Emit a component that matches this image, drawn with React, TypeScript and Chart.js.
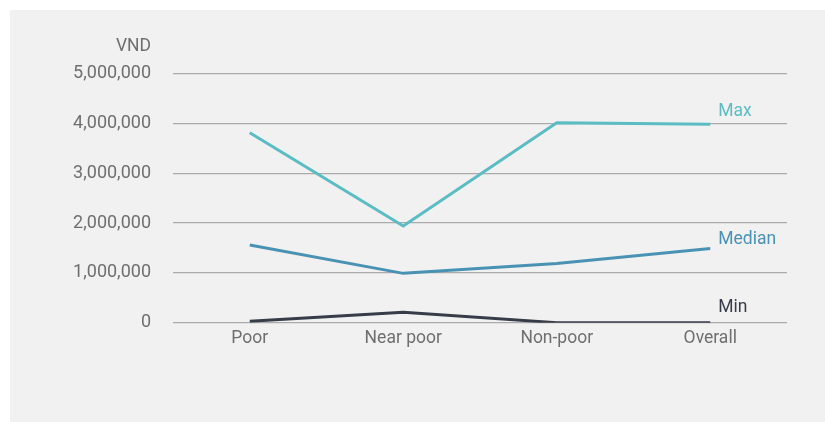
import React, { useEffect, useRef } from "react";
import { Chart, registerables } from "chart.js";

Chart.register(...registerables);

const categories = ["Poor", "Near poor", "Non-poor", "Overall"];
const maxValues = [3810000, 1940000, 4010000, 3980000];
const medianValues = [1560000, 990000, 1190000, 1490000];
const minValues = [30000, 210000, 0, 0];
const yTicks = [0, 1000000, 2000000, 3000000, 4000000, 5000000];
const unitLabel = "VND";

const FONT = "Roboto, 'Open Sans', sans-serif";
const TEXT = "#6f6f6f";

const seriesStyle = [
  { name: "Max", data: maxValues, color: "#5bbcc3", dx: 8, dy: -8 },
  { name: "Median", data: medianValues, color: "#4a92b4", dx: 8, dy: -4 },
  { name: "Min", data: minValues, color: "#363d49", dx: 8, dy: -11 },
];

// Draws the unit caption above the value axis and a name next to each line's last point
const annotations = {
  id: "annotations",
  afterDatasetsDraw(chart: any) {
    const ctx = chart.ctx;
    const yScale = chart.scales.y;
    ctx.save();
    ctx.font = `17.5px ${FONT}`;
    ctx.fillStyle = TEXT;
    ctx.textAlign = "right";
    ctx.textBaseline = "alphabetic";
    ctx.fillText(unitLabel, yScale.right - 22, 41);
    ctx.textAlign = "left";
    chart.data.datasets.forEach((ds: any, i: number) => {
      const meta = chart.getDatasetMeta(i);
      const pt = meta.data[meta.data.length - 1];
      const s = seriesStyle[i];
      ctx.fillStyle = s.color;
      ctx.fillText(s.name, pt.x + s.dx, pt.y + s.dy);
    });
    ctx.restore();
  },
};

export default function App() {
  const ref = useRef<HTMLCanvasElement>(null);

  useEffect(() => {
    if (!ref.current) return;
    const chart = new Chart(ref.current, {
      type: "line",
      data: {
        labels: categories,
        datasets: seriesStyle.map((s) => ({
          label: s.name,
          data: s.data,
          borderColor: s.color,
          backgroundColor: s.color,
          borderWidth: 3,
          pointRadius: 0,
          tension: 0,
          fill: false,
        })),
      },
      options: {
        responsive: false,
        animation: false,
        layout: { padding: { top: 63.5, right: 38, left: 0, bottom: 0 } },
        plugins: {
          legend: { display: false },
          tooltip: { enabled: false },
        },
        scales: {
          x: {
            offset: true,
            grid: { display: false, drawTicks: false },
            border: { display: false },
            ticks: {
              color: TEXT,
              font: { family: FONT, size: 17.5 },
              padding: 5,
            },
            afterFit: (scale: any) => {
              scale.height = 99.3;
            },
          },
          y: {
            min: 0,
            max: 5000000,
            afterBuildTicks: (scale: any) => {
              scale.ticks = yTicks.map((v) => ({ value: v }));
            },
            grid: { color: "#ababab", lineWidth: 1.2, drawTicks: false },
            border: { display: false },
            ticks: {
              color: TEXT,
              font: { family: FONT, size: 18 },
              padding: 22,
              callback: (v: any) => Number(v).toLocaleString("en-US"),
            },
            afterFit: (scale: any) => {
              scale.width = 163;
            },
          },
        },
      },
      plugins: [annotations],
    });
    return () => chart.destroy();
  }, []);

  return (
    <div
      style={{
        position: "fixed",
        left: 10,
        top: 10,
        width: 815,
        height: 412,
        background: "#f1f1f1",
      }}
    >
      <canvas ref={ref} width={815} height={412} style={{ display: "block" }} />
    </div>
  );
}
